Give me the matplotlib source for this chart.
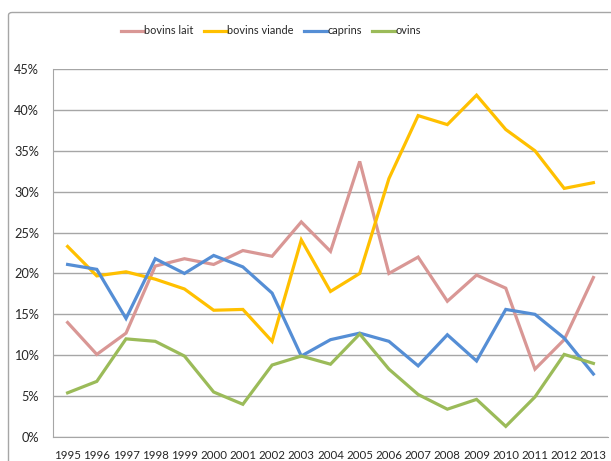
import matplotlib
matplotlib.use("Agg")
import matplotlib.pyplot as plt
from matplotlib.ticker import FuncFormatter, MultipleLocator
from matplotlib.patches import FancyBboxPatch

years = [str(y) for y in range(1995, 2014)]

bovins_lait = [14.0, 10.1, 12.7, 20.9, 21.8, 21.1, 22.8, 22.1, 26.3, 22.7, 33.7,
               20.0, 22.0, 16.6, 19.8, 18.2, 8.3, 11.9, 19.5]
bovins_viande = [23.3, 19.7, 20.2, 19.3, 18.1, 15.5, 15.6, 11.7, 24.1, 17.8, 20.0,
                 31.6, 39.3, 38.2, 41.8, 37.6, 35.0, 30.4, 31.1]
caprins = [21.1, 20.5, 14.5, 21.8, 20.0, 22.2, 20.8, 17.6, 9.9, 11.9, 12.7,
           11.7, 8.7, 12.5, 9.3, 15.6, 15.0, 12.1, 7.7]
ovins = [5.4, 6.8, 12.0, 11.7, 9.9, 5.5, 4.0, 8.8, 9.9, 8.9, 12.6,
         8.3, 5.2, 3.4, 4.6, 1.3, 4.9, 10.1, 9.0]

series = [
    ("bovins lait", bovins_lait, "#D99795"),
    ("bovins viande", bovins_viande, "#FFC000"),
    ("caprins", caprins, "#558ED5"),
    ("ovins", ovins, "#9BBB59"),
]

plt.rcParams["font.family"] = ["Lato", "DejaVu Sans"]

W, H = 611, 461
fig = plt.figure(figsize=(W / 100, H / 100), dpi=100)

# chart frame
frame = FancyBboxPatch((8.5 / W, -0.2), 1.2, 1.2 - 12.5 / H,
                       boxstyle="round,pad=0,rounding_size=0.006",
                       transform=fig.transFigure, fill=False,
                       edgecolor="#A6A6A6", linewidth=1.0)
fig.patches.append(frame)

left, right, top, bottom = 53, 608, 69, 437
ax = fig.add_axes([left / W, 1 - bottom / H, (right - left) / W, (bottom - top) / H])

x = list(range(len(years)))
for name, vals, col in series:
    ax.plot(x, vals, color=col, linewidth=2.3, label=name, solid_joinstyle="miter")

ax.set_xlim(-0.5, len(years) - 0.5)
ax.set_ylim(0, 45)
ax.yaxis.set_major_locator(MultipleLocator(5))
ax.yaxis.set_major_formatter(FuncFormatter(lambda v, p: f"{v:.0f}%"))
ax.set_xticks(x)
ax.set_xticklabels(years)
ax.grid(axis="y", color="#A6A6A6", linewidth=1.0)
ax.set_axisbelow(True)
for s in ["top", "right"]:
    ax.spines[s].set_visible(False)
ax.spines["left"].set_color("#A6A6A6")
ax.spines["bottom"].set_color("#A6A6A6")
ax.tick_params(axis="both", length=0, labelcolor="#262626")
ax.tick_params(axis="y", pad=10, labelsize=9.2)
ax.tick_params(axis="x", pad=9, labelsize=8.3)

leg = fig.legend(loc="center", bbox_to_anchor=(271 / W, 1 - 31 / H), ncol=4, frameon=False,
                 fontsize=7.9, handlelength=2.1, handletextpad=0.0, columnspacing=0.95,
                 labelcolor="#262626")

fig.savefig("out.png", dpi=100)
